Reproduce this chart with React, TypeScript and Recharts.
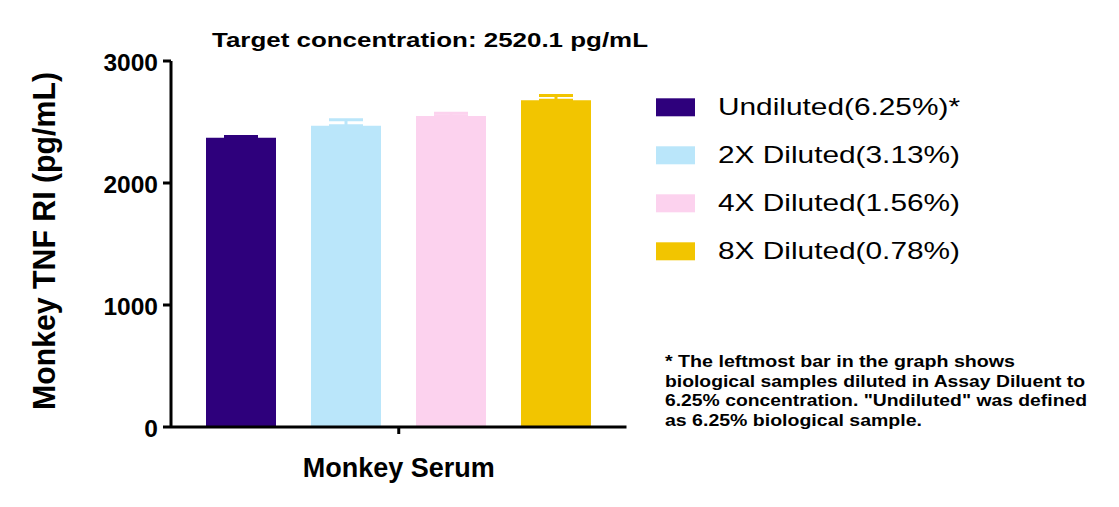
import React from "react";
import { BarChart, Bar, XAxis, YAxis, ErrorBar, Legend } from "recharts";

const categories = ["Monkey Serum"];
const seriesNames = [
  "Undiluted(6.25%)*",
  "2X Diluted(3.13%)",
  "4X Diluted(1.56%)",
  "8X Diluted(0.78%)",
];
const means = [2371, 2470, 2549, 2678];
const errors = [10, 48, 23, 39];
const colors = ["#2e007c", "#bae6fa", "#fcd2ee", "#f2c500"];
const yTicks = [0, 1000, 2000, 3000];

const title = "Target concentration: 2520.1 pg/mL";
const yTitle = "Monkey TNF RI (pg/mL)";
const footnote = [
  "* The leftmost bar in the graph shows",
  "biological samples diluted in Assay Diluent to",
  '6.25% concentration. "Undiluted" was defined',
  "as 6.25% biological sample.",
];
const footnoteWidths = [350, 420, 422, 257];

const FONT = "'Liberation Sans', Arial, Helvetica, sans-serif";
const W = 1103;
const H = 491;

const data = categories.map((name) => {
  const row: Record<string, any> = { name };
  seriesNames.forEach((_, i) => {
    row[`s${i}`] = means[i];
    row[`e${i}`] = [0, errors[i]];
  });
  return row;
});

function YTick({ x, y, payload }: any) {
  return (
    <text x={x} y={y + 10} textAnchor="end" fontSize={24.5} fontWeight="bold" fill="#000" fontFamily={FONT}>
      {payload.value}
    </text>
  );
}

function XTick({ x, y, payload }: any) {
  return (
    <text x={x} y={y + 41} textAnchor="middle" fontSize={27} fontWeight="bold" fill="#000" fontFamily={FONT}>
      {payload.value}
    </text>
  );
}

function LegendBox({ payload }: any) {
  // keep the series order, not alphabetical
  const items = seriesNames
    .map((n) => (payload || []).find((p: any) => p.value === n))
    .filter(Boolean);
  return (
    <svg width={400} height={200}>
      {items.map((p: any, i: number) => (
        <g key={p.value}>
          <rect x={16} y={18.3 + i * 48} width={39} height={18} fill={p.color} />
          <text
            x={78}
            y={35 + i * 48}
            fontSize={24}
            fill="#000"
            fontFamily={FONT}
            textLength={242}
            lengthAdjust="spacingAndGlyphs"
          >
            {p.value}
          </text>
        </g>
      ))}
    </svg>
  );
}

export default function App() {
  return (
    <div style={{ position: "relative", width: W, height: H, fontFamily: FONT }}>
      <BarChart
        width={W}
        height={H}
        data={data}
        margin={{ top: 53, right: 484.5, bottom: 42, left: 0 }}
        barSize={70}
        barGap={35}
      >
        <XAxis
          dataKey="name"
          height={30}
          interval={0}
          tickSize={7}
          axisLine={{ stroke: "#000", strokeWidth: 3 }}
          tickLine={{ stroke: "#000", strokeWidth: 3 }}
          tick={<XTick />}
        />
        <YAxis
          width={163}
          domain={[0, 3000]}
          ticks={yTicks}
          tickSize={8}
          tickMargin={5}
          axisLine={{ stroke: "#000", strokeWidth: 3 }}
          tickLine={{ stroke: "#000", strokeWidth: 3 }}
          tick={<YTick />}
        />
        {seriesNames.map((name, i) => (
          <Bar key={name} dataKey={`s${i}`} name={name} fill={colors[i]} isAnimationActive={false}>
            <ErrorBar
              dataKey={`e${i}`}
              direction="y"
              width={17}
              strokeWidth={3}
              stroke={colors[i]}
              isAnimationActive={false}
            />
          </Bar>
        ))}
        <Legend
          layout="vertical"
          align="center"
          verticalAlign="middle"
          wrapperStyle={{ left: 632, top: 72, width: 400, height: 200 }}
          content={<LegendBox />}
        />
      </BarChart>
      <svg
        width={W}
        height={H}
        style={{ position: "absolute", left: 0, top: 0, pointerEvents: "none" }}
      >
        <text
          x={422}
          y={39}
          textAnchor="middle"
          fontSize={19.5}
          fontWeight="bold"
          fill="#000"
          fontFamily={FONT}
          textLength={436}
          lengthAdjust="spacingAndGlyphs"
        >
          {title}
        </text>
        <text
          transform="translate(47,233) rotate(-90)"
          textAnchor="middle"
          fontSize={31}
          fontWeight="bold"
          fill="#000"
          fontFamily={FONT}
          textLength={338}
          lengthAdjust="spacingAndGlyphs"
        >
          {yTitle}
        </text>
        {footnote.map((line, i) => (
          <text
            key={i}
            x={657}
            y={359 + i * 19.5}
            fontSize={16.5}
            fontWeight="bold"
            fill="#000"
            fontFamily={FONT}
            textLength={footnoteWidths[i]}
            lengthAdjust="spacingAndGlyphs"
          >
            {line}
          </text>
        ))}
      </svg>
    </div>
  );
}
